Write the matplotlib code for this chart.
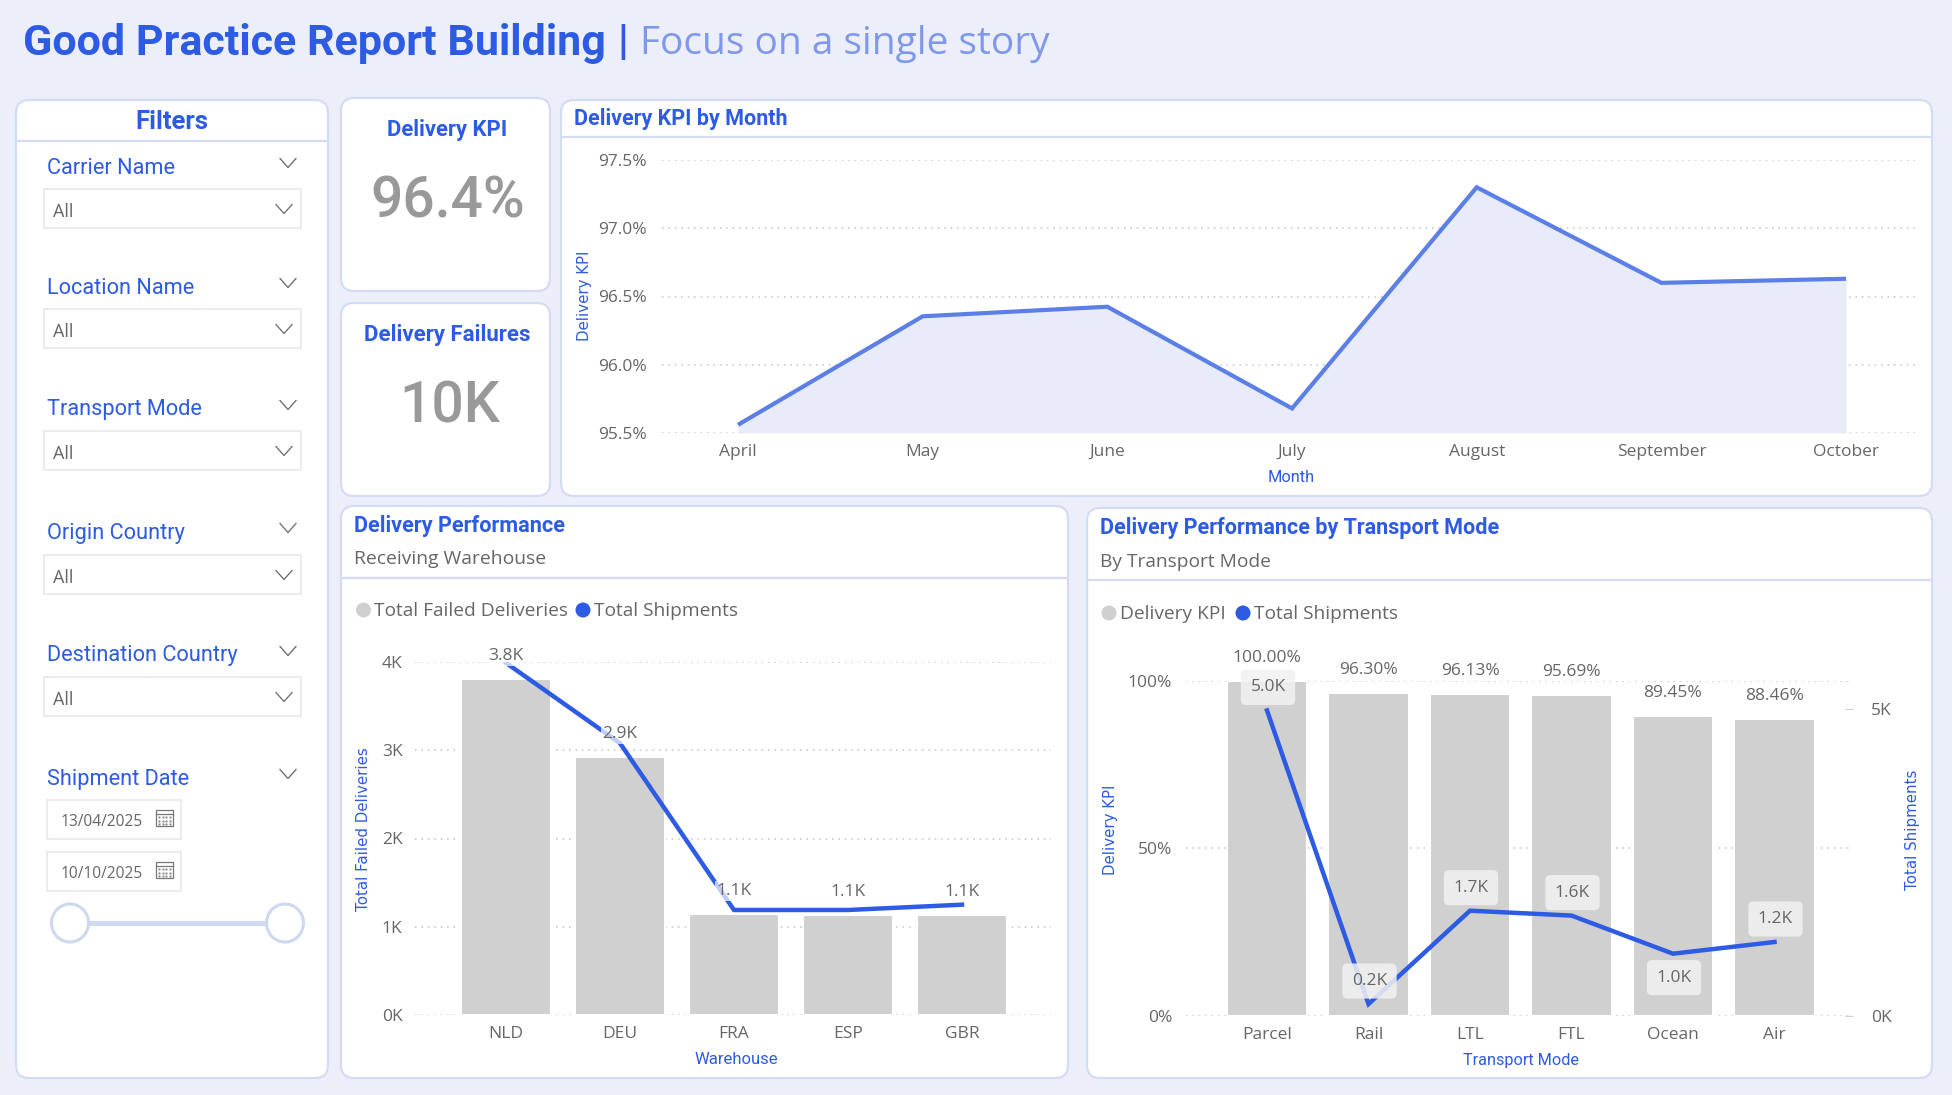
import matplotlib
matplotlib.use("Agg")
import matplotlib.pyplot as plt
from matplotlib.patches import FancyBboxPatch, Rectangle, Ellipse

# ---------- data ----------
months = ["April", "May", "June", "July", "August", "September", "October"]
month_kpi = [95.56, 96.355, 96.425, 95.68, 97.30, 96.60, 96.63]

warehouses = ["NLD", "DEU", "FRA", "ESP", "GBR"]
failed_deliveries_k = [3.81, 2.92, 1.146, 1.134, 1.134]
warehouse_shipments_line = [3.99, 3.08, 1.19, 1.19, 1.25]

modes = ["Parcel", "Rail", "LTL", "FTL", "Ocean", "Air"]
mode_kpi = [100.00, 96.30, 96.13, 95.69, 89.45, 88.46]
mode_shipments_k = [4.97, 0.19, 1.71, 1.63, 1.01, 1.20]
mode_label_below = [False, False, False, False, True, False]

slicers = ["Carrier Name", "Location Name", "Transport Mode", "Origin Country", "Destination Country"]
start_date = "13/04/2025"
end_date = "10/10/2025"
kpi_value = "96.4%"
failures_value = "10K"

# ---------- style ----------
W, H = 1952, 1095
BG = "#eceffa"
EDGE = "#d3dcf3"
BLUE = "#2d5be3"
LIGHT = "#7f98ec"
GREY = "#666666"
BAR = "#d0d0d0"
LINE = "#5b7fe6"
FILL = "#e8ebfa"
HEAD = "Roboto"
BODY = "Open Sans"
TICK = 12.5
AXT = 10.8

fig = plt.figure(figsize=(W / 100, H / 100), dpi=100, facecolor=BG)
bg = fig.add_axes([0, 0, 1, 1], zorder=0)
bg.set_xlim(0, W)
bg.set_ylim(H, 0)
bg.axis("off")


def panel(x0, y0, x1, y1):
    bg.add_patch(FancyBboxPatch((x0, y0), x1 - x0, y1 - y0,
                                boxstyle="round,pad=0,rounding_size=13",
                                fc="white", ec=EDGE, lw=1.6))


def hrule(x0, x1, y):
    bg.plot([x0, x1], [y, y], color=EDGE, lw=1.6, solid_capstyle="butt")


def chevron(x, y, w=16, h=9):
    bg.plot([x - w / 2, x, x + w / 2], [y - h / 2, y + h / 2, y - h / 2], color="#666666", lw=0.9)


def txt(x, y, s, size, color=GREY, family=BODY, weight="normal", ha="left", rot=0):
    bg.text(x, y, s, fontsize=size, color=color, family=family, weight=weight,
            ha=ha, va="center", rotation=rot, rotation_mode="anchor" if rot else "default")


def chart_axes(x0, y0, x1, y1):
    ax = fig.add_axes([x0 / W, 1 - y1 / H, (x1 - x0) / W, (y1 - y0) / H], zorder=1)
    ax.patch.set_alpha(0)
    for s in ax.spines.values():
        s.set_visible(False)
    ax.grid(axis="y", color="#c4c4c4", lw=1.1, linestyle=(0, (1, 3.2)))
    ax.set_axisbelow(True)
    ax.tick_params(length=0, labelsize=TICK, labelcolor=GREY)
    return ax


def style_ticks(ax):
    for lb in ax.get_xticklabels() + ax.get_yticklabels():
        lb.set_family(BODY)
        lb.set_color(GREY)


# ---------- panels ----------
panel(16, 100, 328, 1078)
panel(341, 98, 550, 291)
panel(341, 303, 550, 496)
panel(561, 100, 1932, 496)
panel(341, 506, 1068, 1078)
panel(1087, 508, 1932, 1078)

# ---------- title ----------
txt(23, 43, "Good Practice Report Building", 31, BLUE, HEAD, "bold")
txt(617, 43, "|", 31, BLUE, HEAD, "bold")
txt(640, 44, "Focus on a single story", 28, LIGHT, BODY)

# ---------- filters ----------
txt(172, 122, "Filters", 18.5, BLUE, HEAD, "bold", ha="center")
hrule(16, 328, 141)
label_y = [168, 288, 410, 533, 656]
box_y = [189, 309, 431, 555, 677]
for name, ly, by in zip(slicers, label_y, box_y):
    txt(47, ly, name, 15.7, BLUE, HEAD)
    chevron(288, ly - 5)
    bg.add_patch(Rectangle((44, by), 257, 39, fc="white", ec="#ececec", lw=1.5))
    txt(53, by + 23, "All", 13, GREY)
    chevron(284, by + 20)
txt(47, 779, "Shipment Date", 15.7, BLUE, HEAD)
chevron(288, 774)
for by, date in [(800, start_date), (852, end_date)]:
    bg.add_patch(Rectangle((47, by), 134, 39, fc="white", ec="#ececec", lw=1.5))
    txt(61, by + 22, date, 11.2, GREY)
    bg.add_patch(Rectangle((156, by + 10), 17, 16, fc="white", ec="#777777", lw=0.9))
    bg.plot([156, 173], [by + 14, by + 14], color="#777777", lw=0.9)
    for dx in (159, 162.5, 166, 169.5):
        for dy in (by + 17, by + 20.5, by + 24):
            bg.plot([dx], [dy], ".", ms=1.2, color="#888888")
bg.plot([70, 285], [923, 923], color="#cfdaf2", lw=3.6, solid_capstyle="butt")
for cx in (70, 285):
    bg.add_patch(Ellipse((cx, 923), 37, 38, fc="white", ec="#cfd8f1", lw=2.2, zorder=5))

# ---------- KPI cards ----------
txt(447, 130, "Delivery KPI", 15.8, BLUE, HEAD, "bold", ha="center")
txt(448, 202, kpi_value, 41, "#999999", HEAD, "medium", ha="center")
txt(447, 335, "Delivery Failures", 16, BLUE, HEAD, "bold", ha="center")
txt(450, 407, failures_value, 41, "#999999", HEAD, "medium", ha="center")

# ---------- KPI by month ----------
txt(574, 119, "Delivery KPI by Month", 15.5, BLUE, HEAD, "bold")
hrule(561, 1932, 137)
ax = chart_axes(662, 160, 1919, 433)
x = range(len(months))
ax.fill_between(x, 95.5, month_kpi, color=FILL, lw=0)
ax.plot(x, month_kpi, color=LINE, lw=3, solid_joinstyle="miter", solid_capstyle="butt")
ax.set_xlim(-0.4116, 6.395)
ax.set_ylim(95.5, 97.5)
ax.set_yticks([95.5, 96, 96.5, 97, 97.5])
ax.set_yticklabels([f"{v:.1f}%" for v in [95.5, 96, 96.5, 97, 97.5]])
ax.set_xticks(list(x))
ax.set_xticklabels(months)
ax.tick_params(axis="y", pad=11)
ax.tick_params(axis="x", pad=8)
style_ticks(ax)
txt(1291, 477, "Month", 11.8, BLUE, HEAD, ha="center")
txt(585, 296, "Delivery KPI", AXT, BLUE, "DejaVu Sans", ha="center", rot=90)

# ---------- by warehouse ----------
txt(354, 526, "Delivery Performance", 15.6, BLUE, HEAD, "bold")
txt(354, 559, "Receiving Warehouse", 13.9, GREY)
hrule(341, 1068, 578)
bg.add_patch(Ellipse((363.5, 610), 15, 15, fc=BAR, ec="none"))
txt(374, 611, "Total Failed Deliveries", 13.8, GREY)
bg.add_patch(Ellipse((583, 610), 15, 15, fc=BLUE, ec="none"))
txt(594, 611, "Total Shipments", 13.8, GREY)
ax = chart_axes(415, 662, 1051, 1015)
x = range(len(warehouses))
ax.bar(x, failed_deliveries_k, width=0.79, color=BAR, edgecolor="white", lw=1.5, zorder=2)
ax.plot(x, warehouse_shipments_line, color=BLUE, lw=3.2, zorder=3, solid_joinstyle="miter")
for i, v in zip(x, failed_deliveries_k):
    ax.annotate(f"{v:.1f}K", (i, v), xytext=(0, 23), textcoords="offset pixels",
                ha="center", va="center", fontsize=TICK, color=GREY, family=BODY, zorder=4,
                bbox=dict(boxstyle="square,pad=0.1", fc="white", ec="none", alpha=0.7))
ax.set_xlim(-91 / 114, 545 / 114)
ax.set_ylim(0, 4)
ax.set_yticks([0, 1, 2, 3, 4])
ax.set_yticklabels(["0K", "1K", "2K", "3K", "4K"])
ax.set_xticks(list(x))
ax.set_xticklabels(warehouses)
ax.tick_params(axis="y", pad=9)
ax.tick_params(axis="x", pad=8)
style_ticks(ax)
txt(736, 1059, "Warehouse", 12, BLUE, HEAD, ha="center")
txt(364, 829, "Total Failed Deliveries", AXT, BLUE, "DejaVu Sans", ha="center", rot=90)

# ---------- by transport mode ----------
txt(1100, 528, "Delivery Performance by Transport Mode", 15.5, BLUE, HEAD, "bold")
txt(1100, 562, "By Transport Mode", 13.8, GREY)
hrule(1087, 1932, 580)
bg.add_patch(Ellipse((1109, 613), 15, 15, fc=BAR, ec="none"))
txt(1120, 614, "Delivery KPI", 13.8, GREY)
bg.add_patch(Ellipse((1243, 613), 15, 15, fc=BLUE, ec="none"))
txt(1254, 614, "Total Shipments", 13.8, GREY)
ax = chart_axes(1186, 680.6, 1853, 1015.7)
x = range(len(modes))
ax.bar(x, mode_kpi, width=0.79, color=BAR, edgecolor="white", lw=1.5, zorder=2)
for i, v in zip(x, mode_kpi):
    ax.annotate(f"{v:.2f}%", (i, v), xytext=(0, 23), textcoords="offset pixels",
                ha="center", va="center", fontsize=TICK, color=GREY, family=BODY,
                annotation_clip=False)
ax.set_xlim(-81 / 101.5, 586 / 101.5)
ax.set_ylim(0, 100)
ax.set_yticks([0, 50, 100])
ax.set_yticklabels(["0%", "50%", "100%"])
ax.set_xticks(list(x))
ax.set_xticklabels(modes)
ax.tick_params(axis="y", pad=10)
ax.tick_params(axis="x", pad=8)
style_ticks(ax)
tw = ax.twinx()
tw.set_zorder(2)
tw.patch.set_alpha(0)
for s in tw.spines.values():
    s.set_visible(False)
tw.plot(x, mode_shipments_k, color=BLUE, lw=3.2, zorder=3, solid_joinstyle="miter")
for i, v, below in zip(x, mode_shipments_k, mode_label_below):
    tw.annotate(f"{v:.1f}K", (i, v), xytext=(1, -24 if below else 23), textcoords="offset pixels",
                ha="center", va="center", fontsize=TICK, color=GREY, family=BODY, zorder=4,
                bbox=dict(boxstyle="round,pad=0.55,rounding_size=0.3", fc="#f2f2f2", ec="none", alpha=0.85))
tw.set_ylim(0, 5.456)
tw.set_yticks([0, 5])
tw.set_yticklabels(["0K", "5K"])
tw.tick_params(axis="y", pad=13, length=6, direction="in", color="#d0d0d0", labelsize=TICK)
for t in tw.yaxis.get_major_ticks():
    t.tick2line.set_linestyle((0, (1, 3)))
style_ticks(tw)
txt(1521, 1060, "Transport Mode", 11.7, BLUE, HEAD, ha="center")
txt(1110, 830, "Delivery KPI", AXT, BLUE, "DejaVu Sans", ha="center", rot=90)
txt(1913, 830, "Total Shipments", AXT, BLUE, "DejaVu Sans", ha="center", rot=90)

fig.savefig("out.png", dpi=100, facecolor=BG)
